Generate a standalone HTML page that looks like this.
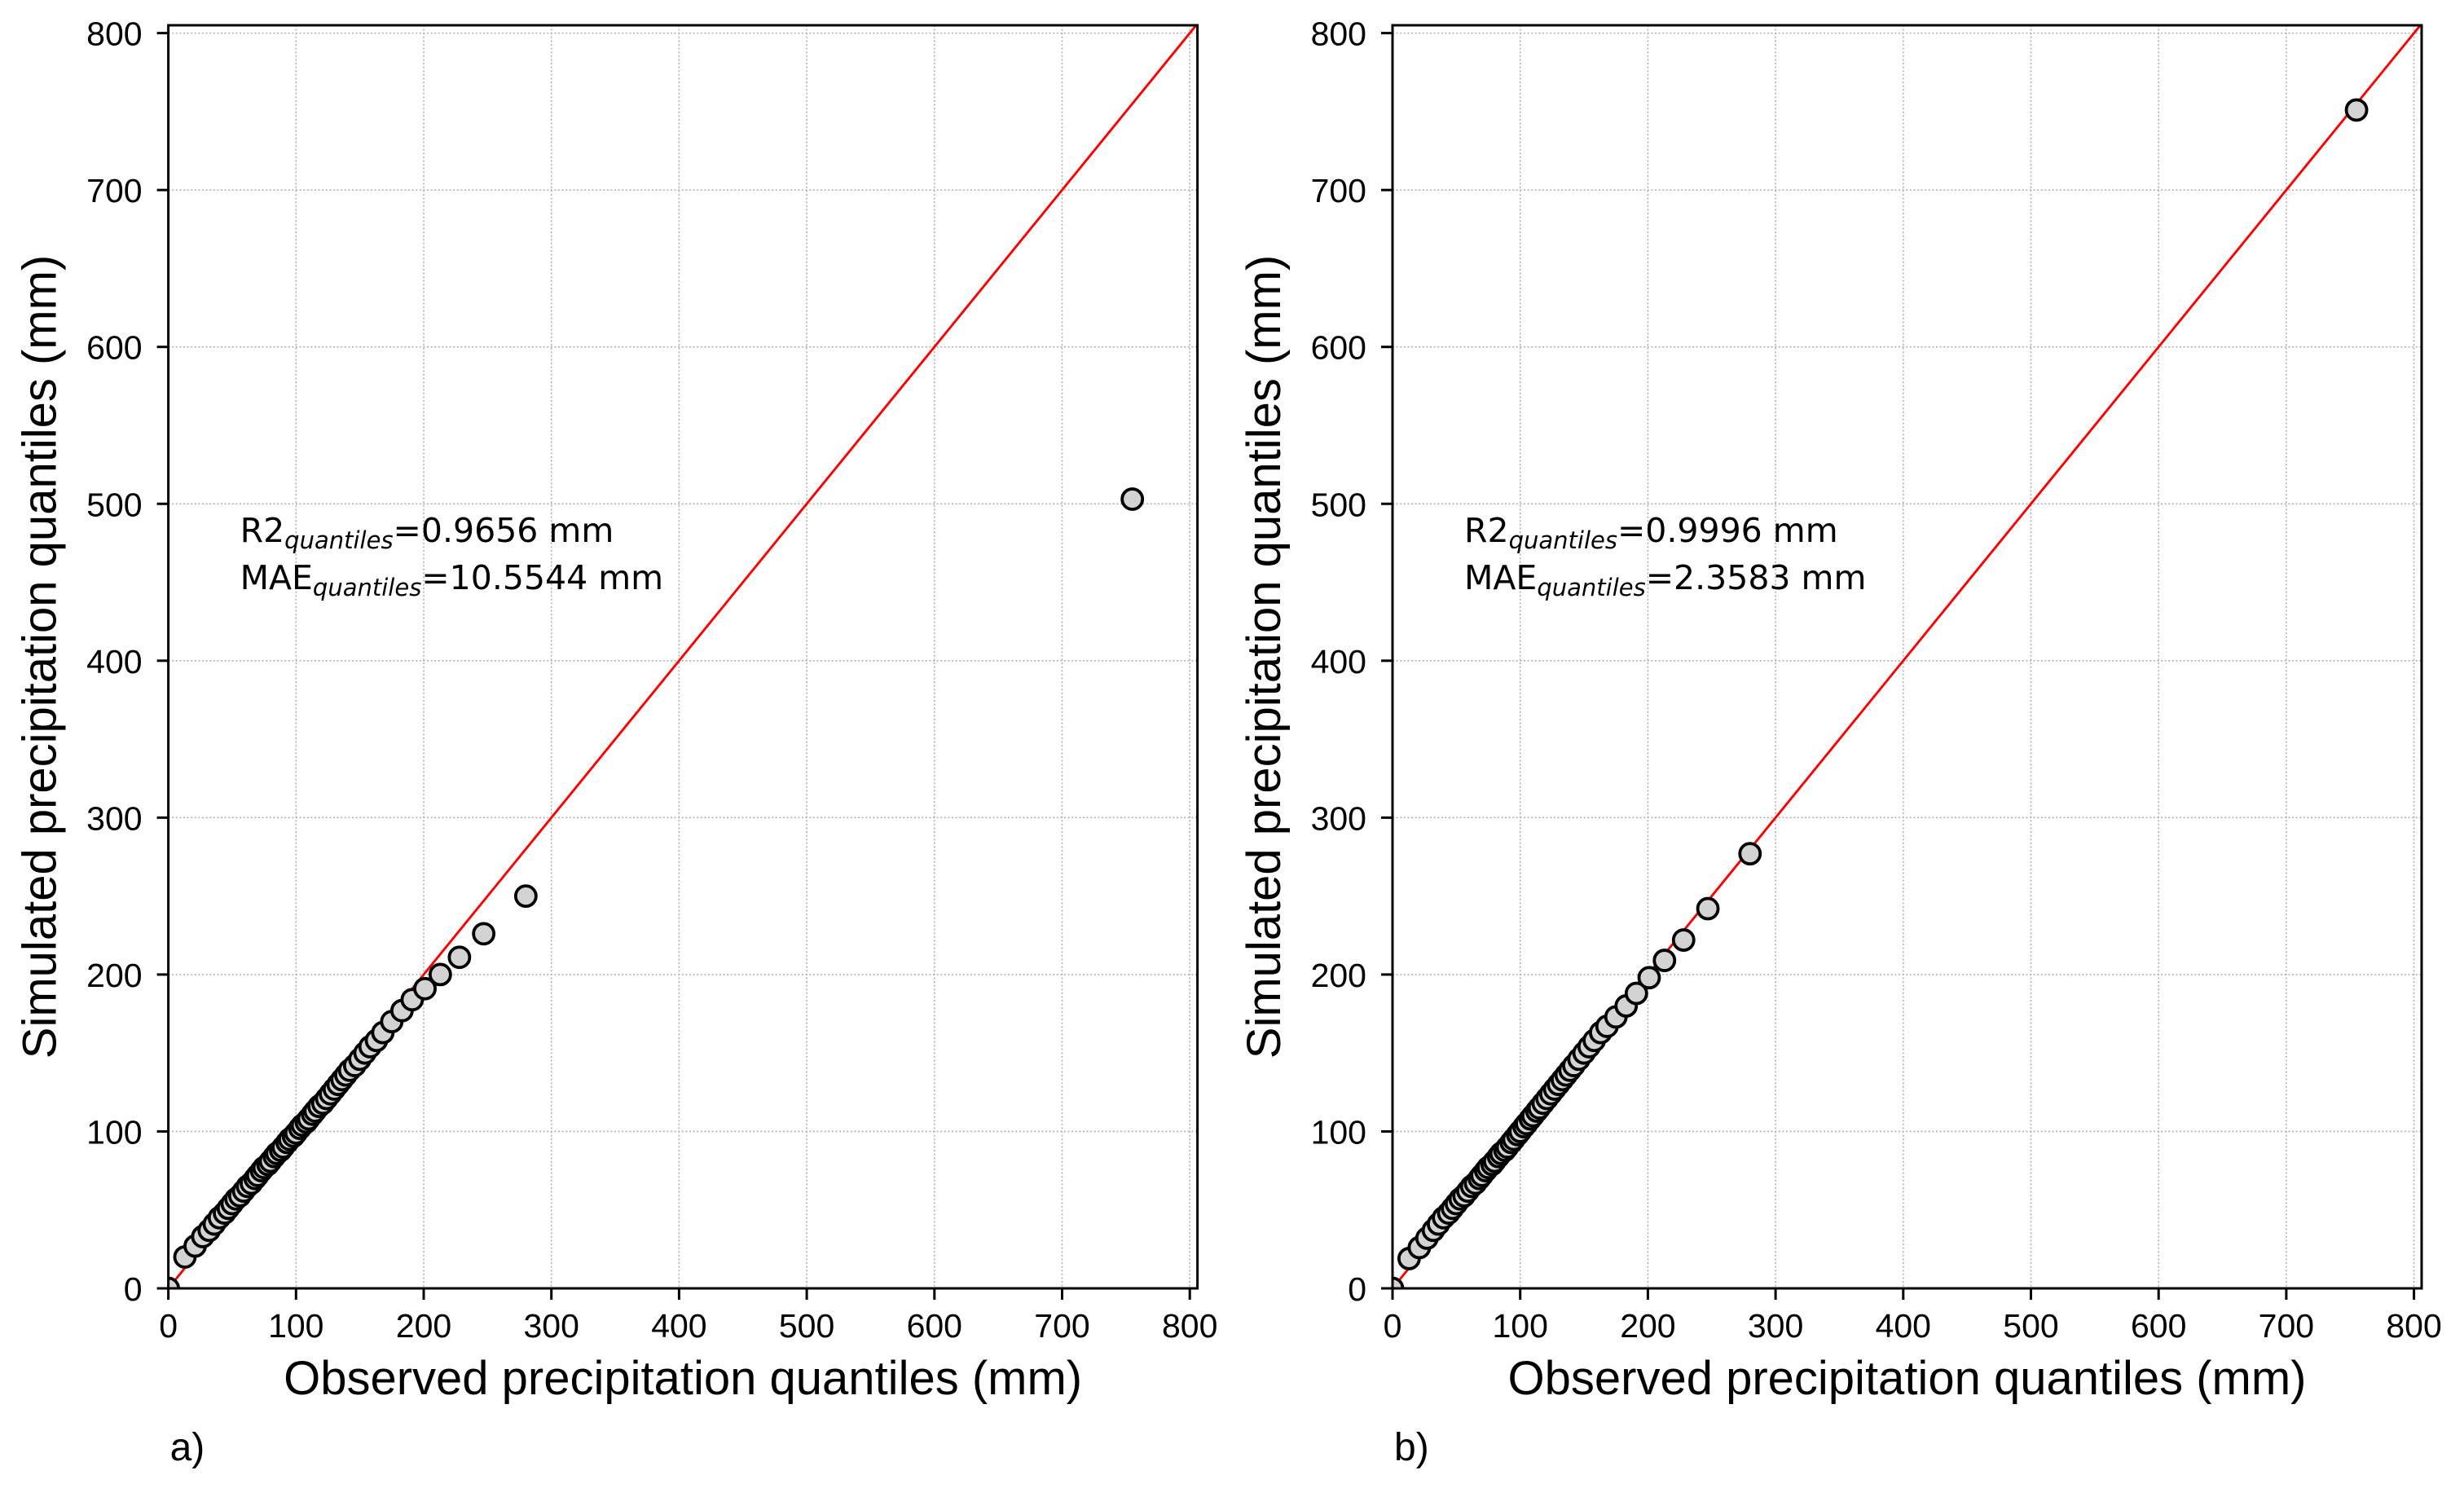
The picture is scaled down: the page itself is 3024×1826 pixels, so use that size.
<!DOCTYPE html>
<html><head><meta charset="utf-8"><style>
html,body{margin:0;padding:0;background:#fff;}
svg{display:block;}
.tick{font-family:"Liberation Sans",Arial,sans-serif;font-size:41px;fill:#000;}
.lab{font-family:"Liberation Sans",Arial,sans-serif;font-size:58px;fill:#000;}
.ann{font-family:"DejaVu Sans",sans-serif;font-size:41px;fill:#000;}
.letter{font-family:"Liberation Sans",Arial,sans-serif;font-size:48px;fill:#000;}
</style></head><body>
<svg id="fig" width="3024" height="1826" viewBox="0 0 3024 1826" xmlns="http://www.w3.org/2000/svg"></svg>
<script>
const ticks = [0,100,200,300,400,500,600,700,800];
const tickLabels = ["0","100","200","300","400","500","600","700","800"];
const observed = [0,13,21,27,32,36,40,44,47,50,53,56,59,62,65,68,70,73,75,78,80,83,85,88,90,93,95,98,100,103,105,108,110,113,115,118,121,124,127,130,133,136,139,142,146,150,154,158,163,168,175,183,191,201,213,228,247,280,755];
const simulatedA = [0,20,27,33,37,41,45,48,51,54,57,59,62,65,67,70,72,75,77,79,81,84,86,88,90,93,95,97,99,102,104,106,108,111,113,116,118,121,124,127,130,133,136,139,142,146,150,154,158,163,170,177,184,191,200,211,226,250,503];
const simulatedB = [0,19,26,32,37,41,45,48,51,54,57,59,62,65,67,70,72,75,77,79,81,84,86,88,90,93,95,98,100,103,105,108,110,113,115,118,121,124,127,130,133,136,139,142,146,150,154,158,163,167,173,180,188,198,209,222,242,277,751];
const statsA = ["R2","0.9656 mm","MAE","10.5544 mm"];
const statsB = ["R2","0.9996 mm","MAE","2.3583 mm"];

const NS="http://www.w3.org/2000/svg";
const svg=document.getElementById('fig');
function mk(tag,attrs,parent){const e=document.createElementNS(NS,tag);for(const k in attrs)e.setAttribute(k,attrs[k]);(parent||svg).appendChild(e);return e;}

function panel(ox,sim,stats,letter,id){
  const x0=ox, x1=ox+1263, yB=1581, yT=31;
  const xmax=806, ymax=805;
  const X=v=>x0+(v/xmax)*(x1-x0);
  const Y=v=>yB-(v/ymax)*(yB-yT);
  const g=mk('g',{});
  
  
  const cid='clip'+id;
  const cp=mk('clipPath',{id:cid},g);
  mk('rect',{x:x0,y:yT,width:x1-x0,height:yB-yT},cp);
  ticks.forEach((t,i)=>{
    const gx=mk('line',{x1:X(t),x2:X(t),y1:yT,y2:yB,stroke:'#b0b0b0','stroke-width':1.6,'stroke-dasharray':'2,2.6'},g);
    
    
    const gy=mk('line',{x1:x0,x2:x1,y1:Y(t),y2:Y(t),stroke:'#b0b0b0','stroke-width':1.6,'stroke-dasharray':'2,2.6'},g);
    
    
  });
  const ln=mk('line',{x1:X(0),y1:Y(0),x2:X(xmax),y2:Y(xmax),stroke:'#ff0000','stroke-width':2.9,'clip-path':'url(#'+cid+')'},g);
  
  
  observed.forEach((o,i)=>{
    const c=mk('circle',{cx:X(o),cy:Y(sim[i]),r:12.5,fill:'#d3d3d3',stroke:'#000','stroke-width':3.8,'clip-path':'url(#'+cid+')'},g);
    
    
  });
  const fr=mk('rect',{x:x0,y:yT,width:x1-x0,height:yB-yT,fill:'none',stroke:'#000','stroke-width':3},g);
  
  
  ticks.forEach((t,i)=>{
    mk('line',{x1:X(t),x2:X(t),y1:yB,y2:yB+14,stroke:'#000','stroke-width':3},g);
    const tx=mk('text',{x:X(t),y:1641,'text-anchor':'middle',class:'tick'},g);
    tx.textContent=tickLabels[i];
    
    
    mk('line',{x1:x0-14,x2:x0,y1:Y(t),y2:Y(t),stroke:'#000','stroke-width':3},g);
    const ty=mk('text',{x:x0-32,y:Y(t)+15,'text-anchor':'end',class:'tick'},g);
    ty.textContent=tickLabels[i];
    
    
  });
  const xl=mk('text',{x:(x0+x1)/2,y:1711,'text-anchor':'middle',class:'lab'},g);
  xl.textContent='Observed precipitation quantiles (mm)';
  
  
  const yc=(yT+yB)/2, yx=x0-138;
  const yl=mk('text',{x:yx,y:yc,'text-anchor':'middle',class:'lab',transform:'rotate(-90 '+yx+' '+yc+')'},g);
  yl.textContent='Simulated precipitation quantiles (mm)';
  
  
  const a1=mk('text',{x:x0+88,y:665,class:'ann'},g);
  
  
  a1.innerHTML=stats[0]+'<tspan font-style="italic" font-size="29" dy="8">quantiles</tspan><tspan dy="-8">='+stats[1]+'</tspan>';
  const a2=mk('text',{x:x0+88,y:723,class:'ann'},g);
  
  
  a2.innerHTML=stats[2]+'<tspan font-style="italic" font-size="29" dy="8">quantiles</tspan><tspan dy="-8">='+stats[3]+'</tspan>';
  const pl=mk('text',{x:x0+2,y:1792,class:'letter'},g);
  pl.textContent=letter;
  
  
}
panel(206.6,simulatedA,statsA,'a)','a');
panel(1709,simulatedB,statsB,'b)','b');
</script>
</body></html>
